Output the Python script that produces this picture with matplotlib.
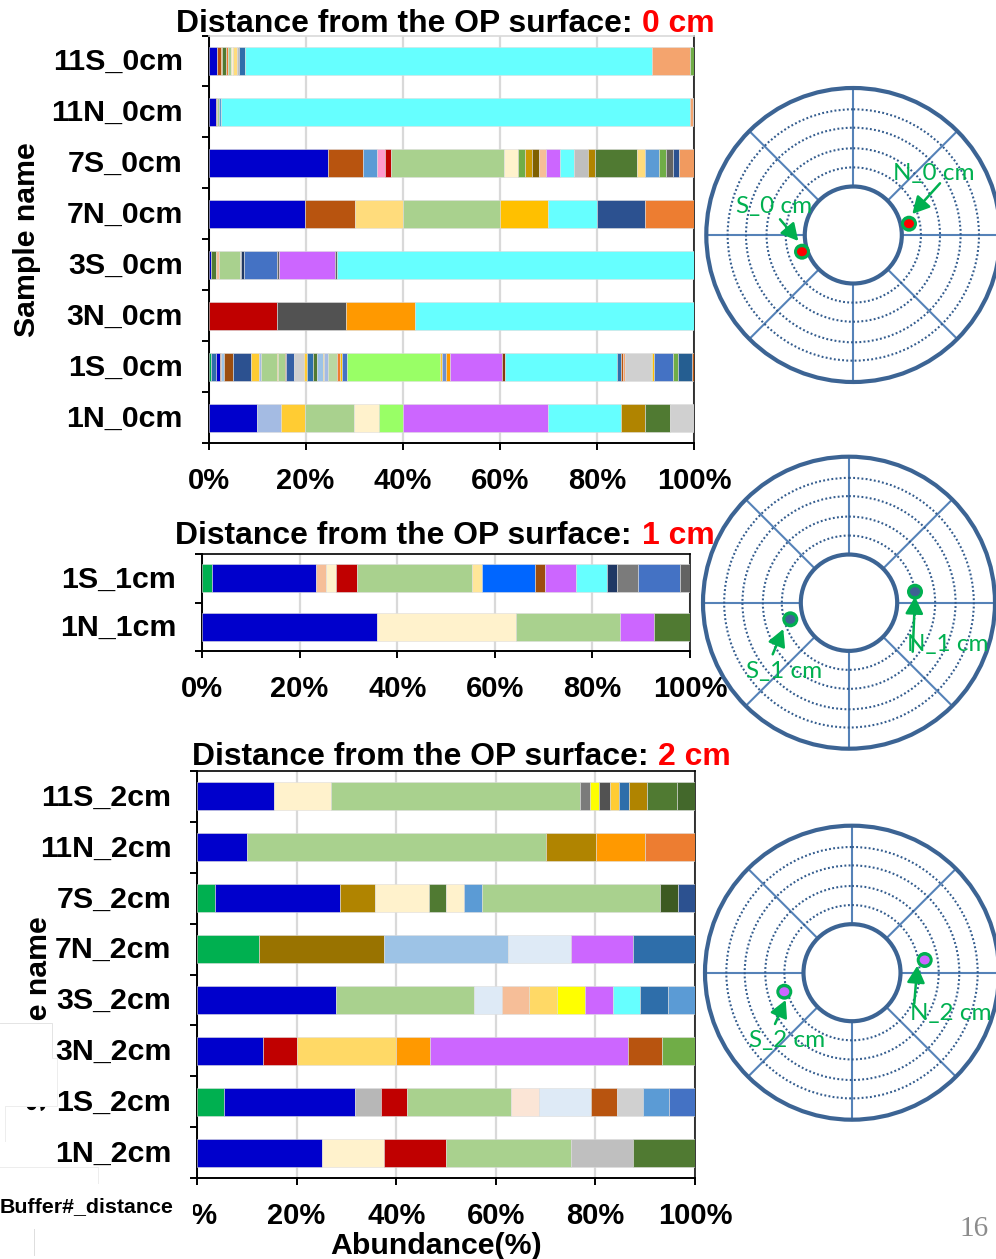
import matplotlib
matplotlib.use("Agg")
import matplotlib.pyplot as plt
from matplotlib.patches import Circle, Ellipse, Rectangle
from matplotlib.transforms import ScaledTranslation

plt.rcParams['font.family'] = ['Liberation Sans', 'DejaVu Sans']

W, H = 996, 1259

# colours seen in the stacked bars
blue = '#0000CC'; cyan = '#66FFFF'; sage = '#A9D18E'; cream = '#FFF2CC'; purple = '#CC66FF'
brown = '#B8540F'; navy = '#2C5190'; dorange = '#ED7D31'; gold = '#FFC000'; ltyel = '#FFDC7C'
olive = '#B08400'; dgreen = '#507A32'; grey = '#BFBFBF'; lime = '#99FF66'; red = '#C00000'
dgrey = '#525252'; orange = '#FF9900'; sandy = '#F4A46E'; peri = '#A4BBE3'; lgrey = '#D0D0D0'
ltblue = '#5B9BD5'; mblue = '#4472C4'; green = '#00B050'; peach = '#F6BE98'; yellow = '#FFFF00'
sky = '#9DC3E6'; pale = '#DEEAF6'; steel = '#2E6EAA'; bisque = '#FBE5D6'; dolive = '#997300'
brown2 = '#9C4D0E'; dkgrn = '#3D5A22'; dkgrn2 = '#43682B'; mgrey = '#7B7B7B'; grey2 = '#636363'
bblue = '#0066FF'; ink = '#203864'; midgreen = '#70AD47'; pink = '#FF99CC'; amber = '#FFCC33'
ochre = '#CC9900'; umber = '#7F6000'; teal = '#255E91'

# panel 1, 0 cm
labels_0 = ['11S_0cm', '11N_0cm', '7S_0cm', '7N_0cm', '3S_0cm', '3N_0cm', '1S_0cm', '1N_0cm']
vals_11S_0 = [1.8, 0.7, 0.3, 0.8, 0.4, 0.55, 0.55, 0.7, 0.55, 1.1, 83.9, 7.75, 0.9]
cols_11S_0 = [blue, brown, orange, dgreen, dorange, sage, cream, ltyel, grey, steel, cyan, sandy, midgreen]
vals_11N_0 = [1.45, 0.35, 0.4, 0.3, 96.6, 0.7, 0.2]
cols_11N_0 = [blue, brown, sage, ltblue, cyan, sandy, grey]
vals_7S_0 = [24.6, 7.1, 3.0, 1.5, 1.3, 23.2, 3.0, 1.3, 1.5, 1.5, 1.3, 3.0, 2.8, 3.0, 1.45, 8.6, 1.6, 2.8, 1.45, 1.5, 1.3, 3.0]
cols_7S_0 = [blue, brown, ltblue, pink, red, sage, cream, midgreen, ochre, umber, peach, purple, cyan, grey, olive,
             dgreen, ltyel, ltblue, midgreen, grey2, navy, '#F19A5F']
vals_7N_0 = [20, 10.2, 9.9, 20, 9.95, 10.1, 9.9, 10.1]
cols_7N_0 = [blue, brown, ltyel, sage, gold, cyan, navy, dorange]
vals_3S_0 = [0.5, 1.0, 0.7, 4.25, 0.3, 0.6, 6.65, 0.6, 11.5, 0.4, 73.4]
cols_3S_0 = [blue, dgreen, peach, sage, lgrey, ink, mblue, grey2, purple, grey2, cyan]
vals_3N_0 = [14.2, 14.2, 14.2, 57.4]
cols_3N_0 = [red, dgrey, orange, cyan]
vals_1S_0 = [0.5, 1.0, 0.9, 0.2, 0.6, 1.9, 3.6, 1.6, 0.5, 3.2, 0.3, 1.4, 0.3, 1.65, 1.9, 0.6, 1.3, 0.9, 1.1, 0.3,
             0.75, 1.9, 0.6, 0.4, 1.1, 19.0, 0.4, 1.0, 0.7, 10.8, 0.6, 23.0, 0.7, 0.6, 0.3, 5.3, 0.35, 0.4, 3.85, 1.1, 2.8, 0.4]
cols_1S_0 = [green, steel, blue, brown, sky, brown2, navy, amber, peri, sage, amber, sage, brown, '#345FA5', lgrey,
             amber, steel, dgreen, sky, amber, peri, '#B9D8A2', dorange, gold, mblue, lime, amber, '#6D90D0', orange,
             purple, '#843C0C', cyan, steel, brown, sandy, lgrey, sage, gold, mblue, midgreen, teal, brown]
vals_1N_0 = [9.9, 5, 5, 10.2, 5, 4.9, 30, 15, 5, 5.1, 5]
cols_1N_0 = [blue, peri, amber, sage, cream, lime, purple, cyan, olive, dgreen, lgrey]
vals_0 = [vals_11S_0, vals_11N_0, vals_7S_0, vals_7N_0, vals_3S_0, vals_3N_0, vals_1S_0, vals_1N_0]
cols_0 = [cols_11S_0, cols_11N_0, cols_7S_0, cols_7N_0, cols_3S_0, cols_3N_0, cols_1S_0, cols_1N_0]

# panel 2, 1 cm
labels_1 = ['1S_1cm', '1N_1cm']
vals_1S_1 = [2.1, 21.2, 2.1, 2.1, 4.3, 23.4, 2.1, 10.7, 2.1, 6.3, 6.4, 2.1, 4.2, 8.6, 2.1]
cols_1S_1 = [green, blue, peach, cream, red, sage, '#FFE699', bblue, brown2, purple, cyan, ink, mgrey, mblue, grey2]
vals_1N_1 = [35.8, 28.4, 21.4, 7.0, 7.3]
cols_1N_1 = [blue, cream, sage, purple, dgreen]
vals_1 = [vals_1S_1, vals_1N_1]
cols_1 = [cols_1S_1, cols_1N_1]

# panel 3, 2 cm
labels_2 = ['11S_2cm', '11N_2cm', '7S_2cm', '7N_2cm', '3S_2cm', '3N_2cm', '1S_2cm', '1N_2cm']
vals_11S_2 = [15.4, 11.6, 50, 1.9, 1.9, 2.1, 1.9, 1.9, 3.75, 5.9, 3.7]
cols_11S_2 = [blue, cream, sage, mgrey, yellow, dgrey, amber, steel, olive, dgreen, dkgrn2]
vals_11N_2 = [10, 60, 10, 9.9, 10]
cols_11N_2 = [blue, sage, olive, orange, dorange]
vals_7S_2 = [3.7, 25, 7.1, 10.8, 3.55, 3.55, 3.55, 35.8, 3.55, 3.5]
cols_7S_2 = [green, blue, olive, cream, dgreen, cream, ltblue, sage, dkgrn, navy]
vals_7N_2 = [12.5, 25, 25, 12.6, 12.4, 12.5]
cols_7N_2 = [green, dolive, sky, pale, purple, steel]
vals_3S_2 = [27.9, 27.7, 5.7, 5.5, 5.6, 5.5, 5.7, 5.4, 5.7, 5.4]
cols_3S_2 = [blue, sage, pale, peach, '#FFD966', yellow, purple, cyan, steel, ltblue]
vals_3N_2 = [13.3, 6.8, 19.9, 6.7, 39.9, 6.8, 6.6]
cols_3N_2 = [blue, red, '#FFD966', orange, purple, brown, midgreen]
vals_1S_2 = [5.4, 26.3, 5.2, 5.3, 21, 5.5, 10.5, 5.2, 5.3, 5.2, 5.2]
cols_1S_2 = [green, blue, '#B7B7B7', red, sage, bisque, pale, brown, lgrey, ltblue, mblue]
vals_1N_2 = [25.1, 12.4, 12.6, 25, 12.4, 12.5]
cols_1N_2 = [blue, cream, red, sage, grey, dgreen]
vals_2 = [vals_11S_2, vals_11N_2, vals_7S_2, vals_7N_2, vals_3S_2, vals_3N_2, vals_1S_2, vals_1N_2]
cols_2 = [cols_11S_2, cols_11N_2, cols_7S_2, cols_7N_2, cols_3S_2, cols_3N_2, cols_1S_2, cols_1N_2]

xticks = [0, 20, 40, 60, 80, 100]
xticklabels = ['0%', '20%', '40%', '60%', '80%', '100%']

fig = plt.figure(figsize=(W / 100, H / 100), dpi=100, facecolor='white')


def stacked(x0, x1, y0, y1, labels, vals, cols, top_color='black', bar_h=0.55):
    ax = fig.add_axes([x0 / W, 1 - y1 / H, (x1 - x0) / W, (y1 - y0) / H])
    n = len(labels)
    for i in range(n):
        total = sum(vals[i])
        left = 0
        for v, c in zip(vals[i], cols[i]):
            w = v / total * 100
            ax.barh(i, w, left=left, height=bar_h, color=c, edgecolor='#DDDDDD', linewidth=0.4, zorder=3)
            left += w
    ax.set_xlim(0, 100)
    ax.set_ylim(n - 0.5, -0.5)
    ax.set_xticks(xticks)
    ax.set_xticklabels(xticklabels, fontsize=21, fontweight='bold')
    ax.set_yticks(range(n))
    ax.set_yticklabels(labels, fontsize=21.9, fontweight='bold')
    ax.set_yticks([i - 0.5 for i in range(n + 1)], minor=True)
    ax.tick_params(axis='y', which='major', length=0, pad=18.5)
    ax.tick_params(axis='y', which='minor', length=5, width=1.4, direction='out')
    ax.tick_params(axis='x', which='major', length=5, width=1.4, direction='out', pad=12)
    # row labels sit a little above the bar centres
    nudge = ScaledTranslation(0, 1.8 / 100, fig.dpi_scale_trans)
    for lab in ax.get_yticklabels():
        lab.set_transform(lab.get_transform() + nudge)
    ax.grid(axis='x', color='#D9D9D9', linewidth=1.6, zorder=0)
    ax.set_axisbelow(True)
    for side in ['left', 'bottom', 'right']:
        ax.spines[side].set_linewidth(1.4)
    ax.spines['right'].set_linewidth(1.1)
    ax.spines['top'].set_color(top_color)
    ax.spines['top'].set_linewidth(1.2)
    return ax


stacked(208.5, 694, 35.5, 443, labels_0, vals_0, cols_0, top_color='#D9D9D9')
stacked(202, 690, 554, 651, labels_1, vals_1, cols_1, bar_h=0.57)
stacked(197, 695, 771, 1178, labels_2, vals_2, cols_2)

# page overlay in pixel units, for titles, rings and the pasted patches
page = fig.add_axes([0, 0, 1, 1], zorder=10)
page.set_xlim(0, W)
page.set_ylim(H, 0)
page.axis('off')
page.patch.set_alpha(0)

title_text = 'Distance from the OP surface: '
titles = ['0 cm', '1 cm', '2 cm']
title_x = [176, 175, 192]
title_y = [24, 536, 757]
fig.canvas.draw()
rend = fig.canvas.get_renderer()
for t, x, y in zip(titles, title_x, title_y):
    a = page.text(x, y, title_text, fontsize=22.95, fontweight='bold', ha='left', va='center')
    w = a.get_window_extent(rend).width
    page.text(x + w + 1, y, t, fontsize=22.95, fontweight='bold', color='#FF0000', ha='left', va='center')

page.text(27, 240, 'Sample name', fontsize=21.8, fontweight='bold', rotation=90, ha='center', va='center')
page.text(39, 1014, 'Sample name', fontsize=21.8, fontweight='bold', rotation=90, ha='center', va='center')

# white pieces pasted over the label and the 0% tick
for x, y, w, h in [(-2, 1023, 54, 36), (-2, 1058, 59, 48), (-2, 1106, 7, 35), (-2, 1185, 195, 42)]:
    page.add_patch(Rectangle((x, y), w, h, facecolor='white', edgecolor='none', zorder=5))
page.plot([0, 52, 52], [1023, 1023, 1058], color='#E4E4E4', lw=0.7, zorder=6)
page.plot([52, 57, 57, 5, 5], [1058, 1058, 1106, 1106, 1141], color='#EDEDED', lw=0.7, zorder=6)
page.plot([0, 98, 98], [1167, 1167, 1183], color='#EDEDED', lw=0.7, zorder=6)
page.plot([34, 34], [1229, 1255], color='#DDDDDD', lw=0.7, zorder=6)
page.text(0, 1207, 'Buffer#_distance', fontsize=15.4, fontweight='bold', ha='left', va='center', zorder=7)
page.text(436, 1246, 'Abundance(%)', fontsize=21.8, fontweight='bold', ha='center', va='center', zorder=7)
page.text(974, 1229, '16', fontsize=21, family='Liberation Serif', color='#8C8C8C', ha='center', va='center')

# pipe cross sections: centre, outer radius, marker colour, then N and S markers, arrows, labels
ring_cx = [853.3, 849, 852]
ring_cy = [235, 602.7, 972.7]
ring_r = [147, 146, 147]
dot_col = ['#FF0000', '#3F6193', '#CC66FF']
n_dot = [(909, 223.7), (915, 591.7), (924.7, 960)]
s_dot = [(802, 251.7), (790.3, 619.3), (784.3, 991.7)]
n_arrow = [((940, 183.3), (912.3, 214)), ((912.7, 651.7), (915, 596.7)), ((914.3, 1003.3), (917.3, 965.7))]
s_arrow = [((780, 219.3), (798.3, 241)), ((772.7, 654.3), (783.3, 629)), ((775, 1024), (785.7, 1000))]
n_text = [('N_0 cm', 934, 173), ('N_1 cm', 948, 644), ('N_2 cm', 950.7, 1013)]
s_text = [('S_0 cm', 774, 206), ('S_1 cm', 784, 671), ('S_2 cm', 786.7, 1041)]
dotted_frac = [0.46, 0.59, 0.73, 0.855]
inner_frac = 0.33
spokes = [(1, 0), (0.7071, 0.7071), (0, 1), (-0.7071, 0.7071), (-1, 0), (-0.7071, -0.7071), (0, -1), (0.7071, -0.7071)]
dark = '#3C6494'
line = '#5582B8'
gr = '#00B050'

for k in range(3):
    cx, cy, r = ring_cx[k], ring_cy[k], ring_r[k]
    for dx, dy in spokes:
        page.plot([cx + dx * r * inner_frac, cx + dx * r], [cy + dy * r * inner_frac, cy + dy * r], color=line, lw=1.5, zorder=1)
    for f in dotted_frac:
        page.add_patch(Circle((cx, cy), r * f, fill=False, edgecolor='#335C8E', lw=1.5, ls=(0, (0.9, 1.1)), zorder=1))
    page.add_patch(Circle((cx, cy), r, fill=False, edgecolor=dark, lw=3, zorder=2))
    page.add_patch(Circle((cx, cy), r * inner_frac, fill=False, edgecolor=dark, lw=3, zorder=2))
    for (x, y) in [n_dot[k], s_dot[k]]:
        page.add_patch(Circle((x, y), 8, facecolor=gr, edgecolor='none', zorder=3))
        page.add_patch(Ellipse((x, y), 10, 9, facecolor=dot_col[k], edgecolor='none', zorder=4))
    for (p0, p1) in [n_arrow[k], s_arrow[k]]:
        page.annotate('', xy=p1, xytext=p0, zorder=4,
                      arrowprops=dict(arrowstyle='-|>,head_length=0.6,head_width=0.32', color=gr, lw=1.8, mutation_scale=17, shrinkA=0, shrinkB=0))
    for (s, x, y) in [n_text[k], s_text[k]]:
        page.text(x, y, s, fontsize=17.5, family='Lato', color=gr, ha='center', va='center', zorder=4)

fig.savefig('out.png', dpi=100)
